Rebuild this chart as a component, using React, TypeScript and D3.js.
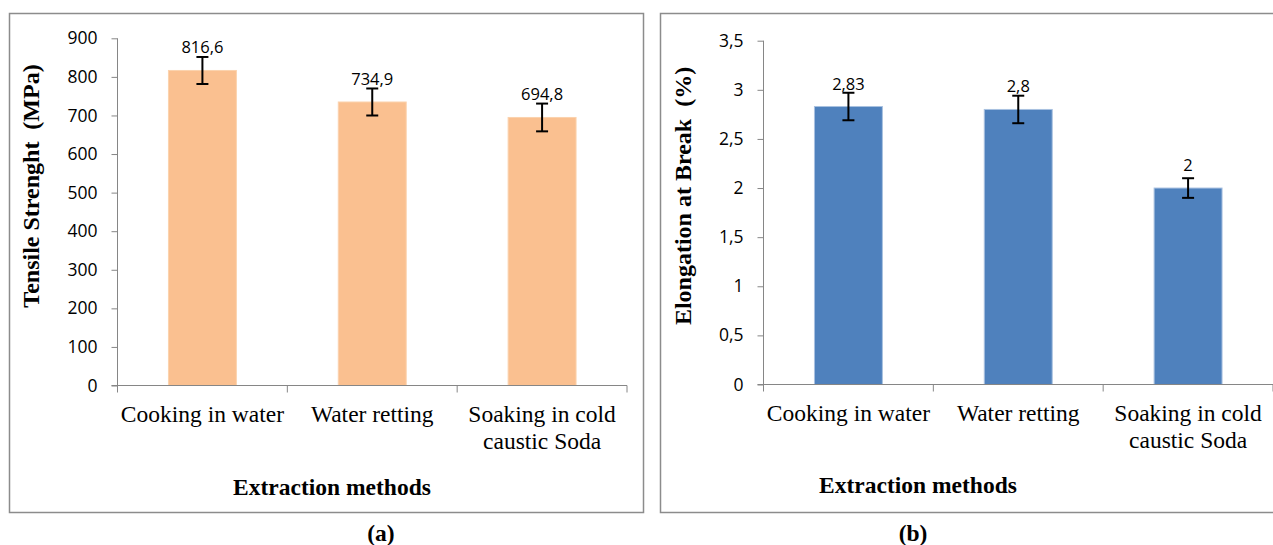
import React, { useEffect, useRef } from "react";
import * as d3 from "d3";

// data
const categories = ["Cooking in water", "Water retting", "Soaking in cold caustic Soda"];
const categoryLines = [["Cooking in water"], ["Water retting"], ["Soaking in cold", "caustic Soda"]];

const tensileValues = [816.6, 734.9, 694.8];
const tensileErrors = [35, 35, 36];
const tensileTicks = [0, 100, 200, 300, 400, 500, 600, 700, 800, 900];

const elongationValues = [2.83, 2.8, 2];
const elongationErrors = [0.14, 0.14, 0.1];
const elongationTicks = [0, 0.5, 1, 1.5, 2, 2.5, 3, 3.5];

const W = 1273;
const H = 545;

const comma = (d: number) => String(d).replace(".", ",");
const serif = "'Liberation Serif', 'Times New Roman', serif";
const sans = "'Open Sans', sans-serif";

function drawPanel(svg: any, opt: any) {
  const { box, x0, x1, yBase, yTop, max, values, errors, ticks, color, edge, yTitle, yTitleX, yTitleY, xTitleX, xTitleY, tag, tagX } = opt;

  // panel frame
  svg.append("rect")
    .attr("x", box[0] + 0.5)
    .attr("y", box[1] + 0.5)
    .attr("width", box[2] - box[0])
    .attr("height", box[3] - box[1])
    .attr("fill", "white")
    .attr("stroke", "#8c8c8c")
    .attr("stroke-width", 1.5);

  const x = d3.scaleBand().domain(categories).range([x0, x1]).paddingInner(0.6).paddingOuter(0.3);
  const band = d3.scaleBand().domain(categories).range([x0, x1]).padding(0);
  const y = d3.scaleLinear().domain([0, max]).range([yBase, yTop]);

  // y axis
  const ga = svg.append("g").attr("transform", `translate(${x0},0)`);
  ga.call(d3.axisLeft(y).tickValues(ticks).tickSize(6).tickSizeOuter(0).tickPadding(14).tickFormat(comma));
  ga.select(".domain").remove();
  ga.selectAll(".tick line").attr("stroke", "#868686");
  ga.selectAll("text")
    .attr("font-family", sans)
    .attr("font-size", 17.5)
    .attr("fill", "#000");
  svg.append("line")
    .attr("x1", x0).attr("x2", x0)
    .attr("y1", yTop).attr("y2", yBase + 7)
    .attr("stroke", "#868686");

  // bars
  svg.selectAll(null)
    .data(values)
    .join("rect")
    .attr("x", (_: any, i: number) => x(categories[i]))
    .attr("y", (d: number) => y(d))
    .attr("width", x.bandwidth())
    .attr("height", (d: number) => yBase - y(d))
    .attr("fill", color)
    .attr("stroke", edge)
    .attr("stroke-width", 1);

  // x axis
  svg.append("line")
    .attr("x1", x0 - 6).attr("x2", x1)
    .attr("y1", yBase).attr("y2", yBase)
    .attr("stroke", "#868686");
  const bounds = categories.map((c) => band(c) as number).concat([x1]);
  svg.selectAll(null)
    .data(bounds.slice(1))
    .join("line")
    .attr("x1", (d: number) => d).attr("x2", (d: number) => d)
    .attr("y1", yBase).attr("y2", yBase + 7)
    .attr("stroke", "#868686");

  // error bars
  const cx = (i: number) => (x(categories[i]) as number) + x.bandwidth() / 2;
  values.forEach((v: number, i: number) => {
    const g = svg.append("g").attr("stroke", "#000").attr("stroke-width", 2);
    const top = y(v + errors[i]);
    const bot = y(v - errors[i]);
    g.append("line").attr("x1", cx(i)).attr("x2", cx(i)).attr("y1", top).attr("y2", bot);
    g.append("line").attr("x1", cx(i) - 6).attr("x2", cx(i) + 6).attr("y1", top).attr("y2", top);
    g.append("line").attr("x1", cx(i) - 6).attr("x2", cx(i) + 6).attr("y1", bot).attr("y2", bot);
  });

  // value labels
  svg.selectAll(null)
    .data(values)
    .join("text")
    .attr("x", (_: any, i: number) => cx(i))
    .attr("y", (d: number) => y(d) - 17)
    .attr("text-anchor", "middle")
    .attr("font-family", sans)
    .attr("font-size", 16.5)
    .text((d: number) => comma(d));

  // category labels
  categoryLines.forEach((lines, i) => {
    const t = svg.append("text")
      .attr("text-anchor", "middle")
      .attr("font-family", serif)
      .attr("font-size", 23.5);
    lines.forEach((l, j) => {
      t.append("tspan").attr("x", cx(i)).attr("y", yBase + 36 + j * 27).text(l);
    });
  });

  // titles
  svg.append("text")
    .attr("transform", `translate(${yTitleX},${yTitleY}) rotate(-90)`)
    .attr("text-anchor", "middle")
    .attr("dy", "0.35em")
    .attr("font-family", serif)
    .attr("font-weight", "bold")
    .attr("font-size", 24)
    .text(yTitle);

  svg.append("text")
    .attr("x", xTitleX)
    .attr("y", xTitleY)
    .attr("text-anchor", "middle")
    .attr("font-family", serif)
    .attr("font-weight", "bold")
    .attr("font-size", 23.5)
    .text("Extraction methods");

  svg.append("text")
    .attr("x", tagX)
    .attr("y", 541)
    .attr("text-anchor", "middle")
    .attr("font-family", serif)
    .attr("font-weight", "bold")
    .attr("font-size", 23.5)
    .text(tag);
}

const App = () => {
  const svgRef = useRef<SVGSVGElement>(null);

  useEffect(() => {
    const svg = d3.select(svgRef.current);
    svg.selectAll("*").remove();
    svg.append("rect").attr("width", W).attr("height", H).attr("fill", "white");

    drawPanel(svg, {
      box: [9, 13, 643, 512],
      x0: 117.5, x1: 627, yBase: 385.5, yTop: 38.3, max: 900,
      values: tensileValues, errors: tensileErrors, ticks: tensileTicks,
      color: "#FAC090", edge: "#FBD2AE",
      yTitle: "Tensile Strenght \u00a0(MPa)", yTitleX: 31, yTitleY: 186,
      xTitleX: 332, xTitleY: 495, tag: "(a)", tagX: 381,
    });

    drawPanel(svg, {
      box: [660, 13, 1290, 512],
      x0: 763.5, x1: 1273, yBase: 384.5, yTop: 40.7, max: 3.5,
      values: elongationValues, errors: elongationErrors, ticks: elongationTicks,
      color: "#4F81BD", edge: "#A9C1E0",
      yTitle: "Elongation at Break \u00a0(%)", yTitleX: 683, yTitleY: 196,
      xTitleX: 918, xTitleY: 493, tag: "(b)", tagX: 913,
    });
  }, []);

  return (
    <svg
      ref={svgRef}
      width={W}
      height={H}
      style={{ position: "absolute", left: 0, top: 0 }}
    ></svg>
  );
};

export default App;
